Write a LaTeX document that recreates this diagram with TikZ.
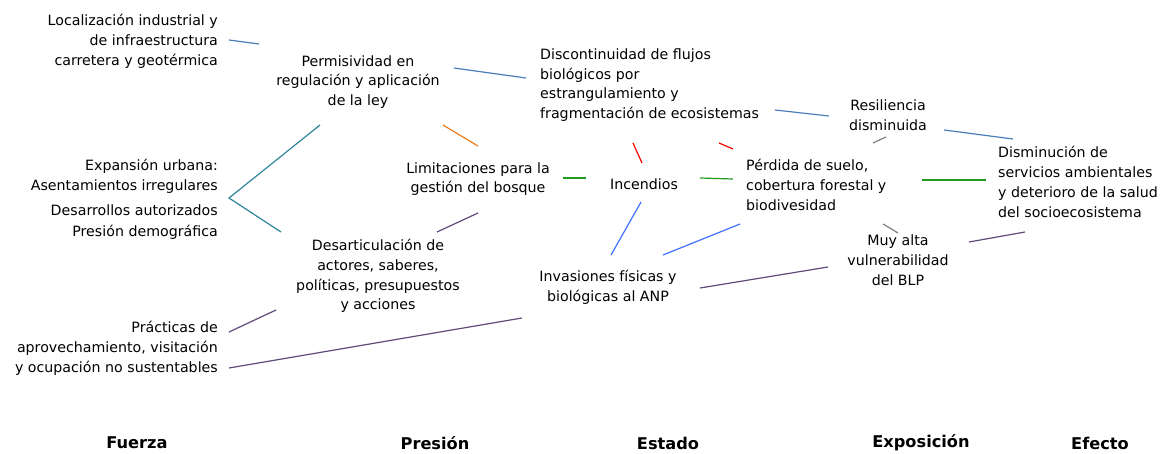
\documentclass[tikz,border=0pt]{standalone}
\usepackage{fontspec}
\setmainfont{DejaVu Sans}
\usepackage{tikz}
\usetikzlibrary{calc}
\definecolor{azulq}{rgb}{0.29,0.49,0.73}
\definecolor{azulv}{rgb}{0.25,0.44,1.}
\definecolor{verdeq}{rgb}{0.12,0.60,0.12}
\definecolor{rojoq}{rgb}{1.,0.,0.}
\definecolor{naranq}{rgb}{0.94,0.49,0.11}
\definecolor{moradq}{rgb}{0.38,0.29,0.48}
\definecolor{tealq}{rgb}{0.19,0.52,0.61}
\definecolor{grisq}{rgb}{0.5,0.5,0.5}

\begin{document}
\begin{tikzpicture}[x=1pt,y=-1pt,
  txt/.style={inner sep=0pt,font=\fontsize{14.2}{19.8}\selectfont},
  eje/.style={inner sep=0pt,font=\fontsize{16.2}{18}\selectfont\bfseries},
  con/.style={line width=1.2pt}]
\useasboundingbox (0,0) rectangle (1163,453);
% fuerzas
\node[txt,align=right,anchor=east] (f1) at (218,41) {Localización industrial y\\de infraestructura\\carretera y geotérmica};
\node[txt,align=right,anchor=east] (f2) at (218,176) {Expansión urbana:\\Asentamientos irregulares};
\node[txt,anchor=east] (f3) at (218,210) {Desarrollos autorizados};
\node[txt,anchor=east] (f4) at (218,232) {Presión demográfica};
\node[txt,align=right,anchor=east] (f5) at (218,348) {Prácticas de\\aprovechamiento, visitación\\y ocupación no sustentables};
% presiones
\node[txt,align=center] (p1) at (358,82) {Permisividad en\\regulación y aplicación\\de la ley};
\node[txt,align=center] (p2) at (478,179) {Limitaciones para la\\gestión del bosque};
\node[txt,align=center] (p3) at (378,276) {Desarticulación de\\actores, saberes,\\políticas, presupuestos\\y acciones};
% estado
\node[txt,align=left,anchor=west] (e1) at (540,85) {Discontinuidad de flujos\\biológicos por\\estrangulamiento y\\fragmentación de ecosistemas};
\node[txt] (e2) at (644,184) {Incendios};
\node[txt,align=center] (e3) at (608,287) {Invasiones físicas y\\biológicas al ANP};
\node[txt,align=left,anchor=west] (e4) at (746,185) {Pérdida de suelo,\\cobertura forestal y\\biodivesidad};
% exposicion y efecto
\node[txt,align=center] (x1) at (888,115) {Resiliencia\\disminuida};
\node[txt,align=center] (x2) at (898,260) {Muy alta\\vulnerabilidad\\del BLP};
\node[txt,align=left,anchor=west] (d1) at (998,182) {Disminución de\\servicios ambientales\\y deterioro de la salud\\del socioecosistema};
% columnas
\node[eje] (l1) at (137,443) {Fuerza};
\node[eje] (l2) at (435,443) {Presión};
\node[eje] (l3) at (668,443) {Estado};
\node[eje] (l4) at (921,443) {Exposición};
\node[eje] (l5) at (1100,443) {Efecto};
% conectores
\coordinate (fork) at ($(f3.east)+(11,-12)$);
\draw [con,color=azulq] ($(f1.east)+(11,-1)$) -- ($(p1)+(-99,-38)$);
\draw [con,color=azulq] ($(p1)+(96,-14)$) -- ($(e1.west)+(-14,-7)$);
\draw [con,color=azulq] ($(e1.west)+(235,25)$) -- ($(x1)+(-59,1)$);
\draw [con,color=azulq] ($(x1)+(56,15)$) -- ($(d1.west)+(15,-43)$);
\draw [con,color=tealq] ($(p1)+(-38,43)$) -- (fork) -- ($(p3)+(-97,-44)$);
\draw [con,color=naranq] ($(p1)+(85,43)$) -- ($(p2)+(0,-33)$);
\draw [con,color=moradq] ($(p3)+(59,-44)$) -- ($(p2)+(0,34)$);
\draw [con,color=verdeq] ($(p2)+(85,-1)$) -- ($(e2)+(-58,-6)$);
\draw [con,color=verdeq] ($(e2)+(56,-6)$) -- ($(e4.west)+(-13,-6)$);
\draw [con,color=rojoq] ($(e1.west)+(93,58)$) -- ($(e2)+(-2,-21)$);
\draw [con,color=rojoq] ($(e1.west)+(179,58)$) -- ($(e4.west)+(-13,-36)$);
\draw [con,color=azulv] ($(e2)+(-3,18)$) -- ($(e3)+(3,-32)$);
\draw [con,color=azulv] ($(e4.west)+(-6,39)$) -- ($(e3)+(55,-32)$);
\draw [con,color=moradq] ($(e3)+(92,1)$) -- ($(x2)+(-70,7)$);
\draw [con,color=moradq] ($(x2)+(71,-18)$) -- ($(d1.west)+(27,50)$);
\draw [con,color=grisq] ($(e4.west)+(127,-42)$) -- ($(x1)+(-2,22)$);
\draw [con,color=grisq] ($(e4.west)+(137,39)$) -- ($(x2)+(0,-27)$);
\draw [con,color=verdeq] ($(e4.west)+(176,-5)$) -- ($(d1.west)+(-12,-2)$);
\draw [con,color=moradq] ($(f5.east)+(11,-16)$) -- ($(p3)+(-102,34)$);
\draw [con,color=moradq] ($(f5.east)+(11,20)$) -- ($(e3)+(-86,31)$);
\end{tikzpicture}
\end{document}
